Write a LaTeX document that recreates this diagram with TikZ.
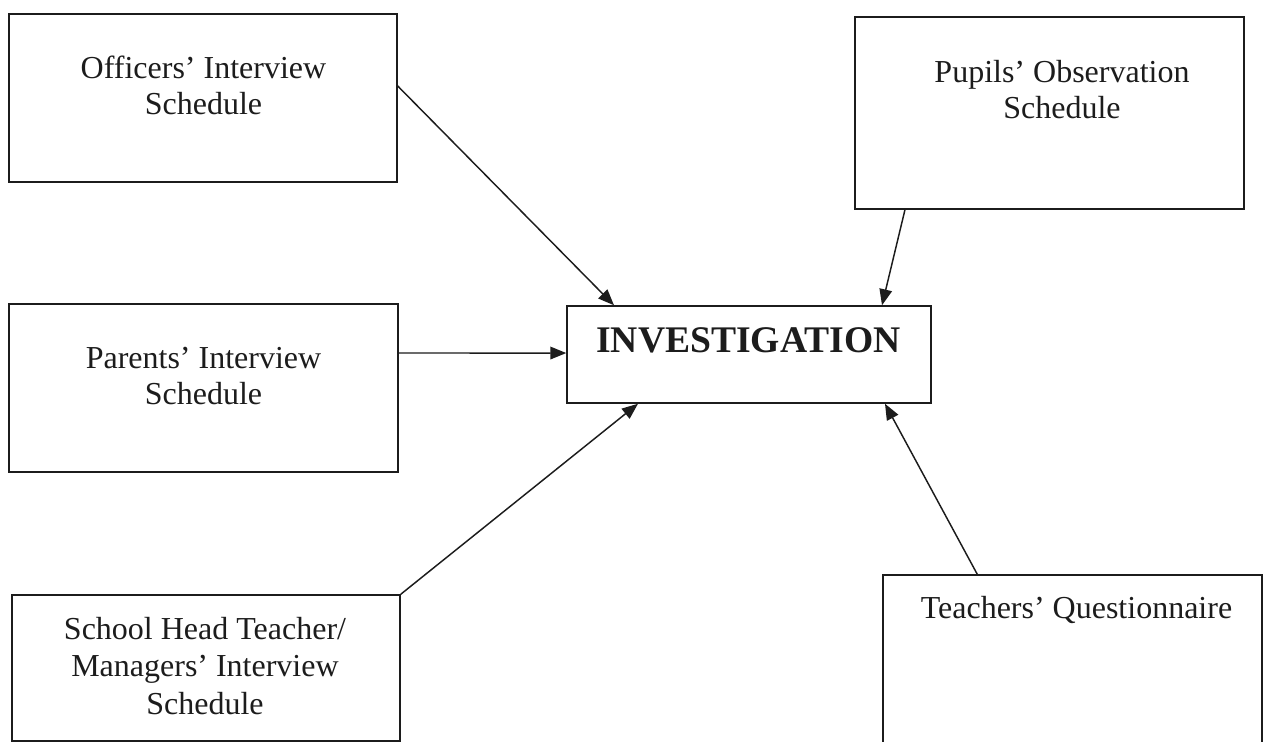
\documentclass[tikz,border=0pt]{standalone}
\usepackage{fontspec}
\setmainfont{Liberation Serif}
\usetikzlibrary{arrows.meta}
\definecolor{ink}{HTML}{1C1C1C}
\begin{document}
\begin{tikzpicture}[x=0.75pt,y=-0.75pt,
  box/.style={draw=ink, line width=1.1pt, inner sep=0pt},
  lbl/.style={align=center, inner sep=0pt, text=ink, font=\fontsize{24}{27}\selectfont},
  title/.style={inner sep=0pt, text=ink, font=\fontsize{28.2}{32}\selectfont\bfseries},
  arr/.style={draw=ink, line width=1.1pt, -{Triangle[length=12pt,width=9.5pt]}}]
\useasboundingbox (0,0) rectangle (1264,742);
\clip (0,0) rectangle (1264,742);
% boxes
\node[box, minimum width=291pt, minimum height=126pt] (off) at (203,98) {};
\node[box, minimum width=291.75pt, minimum height=144pt] (pup) at (1049.5,113) {};
\node[box, minimum width=291.75pt, minimum height=126pt] (par) at (203.5,388) {};
\node[box, minimum width=273pt, minimum height=72.75pt] (inv) at (749,354.5) {};
\node[box, minimum width=291pt, minimum height=109.5pt] (sch) at (206,668) {};
\node[box, minimum width=284.25pt, minimum height=138.75pt] (tea) at (1072.5,667.5) {};
% texts
\node[lbl] (offt) at (203.5,85) {Officers’ Interview\\Schedule};
\node[lbl] (pupt) at (1062,89.5) {Pupils’ Observation\\Schedule};
\node[lbl] (part) at (203.5,376) {Parents’ Interview\\Schedule};
\node[lbl, font=\fontsize{24}{28}\selectfont] (scht) at (205,666) {School Head Teacher/\\Managers’ Interview\\Schedule};
\node[lbl, anchor=base] (teat) at (1076.5,618) {Teachers’ Questionnaire};
\node[title, anchor=base] (invt) at (748.5,352) {INVESTIGATION};
% connectors
\draw[arr] ([yshift=9pt]off.east) -- ([xshift=-101.25pt]inv.north);
\draw[arr] ([xshift=-108.4pt]pup.south) -- ([xshift=99.75pt]inv.north);
\draw[arr] ([yshift=26.25pt]par.east) -- ([yshift=1.1pt]inv.west);
\draw[arr] (sch.north east) -- ([xshift=-83.25pt]inv.south);
\draw[arr] ([xshift=71.25pt]tea.north west) -- ([xshift=102pt]inv.south);
\end{tikzpicture}
\end{document}
